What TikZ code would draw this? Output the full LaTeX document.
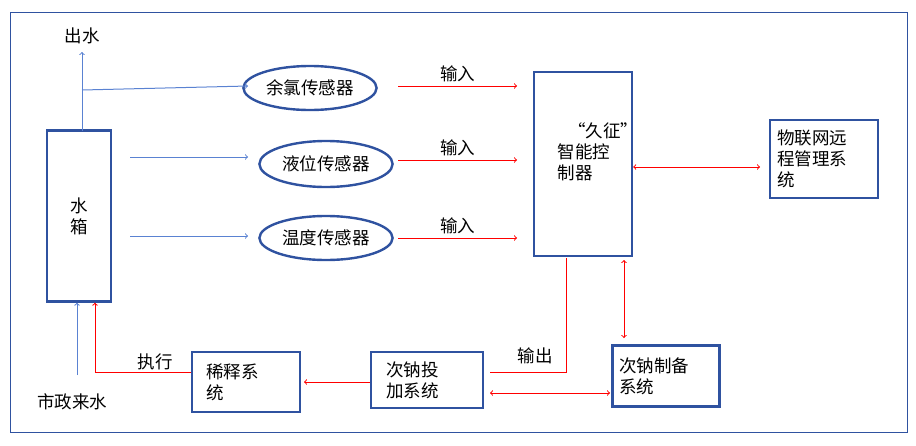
\documentclass[tikz,border=0pt]{standalone}
\usepackage{fontspec}
\setmainfont{Noto Sans CJK SC}
\usetikzlibrary{arrows,shapes}
\definecolor{frameblue}{RGB}{47,82,160}
\definecolor{lineblue}{RGB}{90,130,210}
\tikzset{
  blk/.style={draw=frameblue, line width=2.4pt, align=left},
  oval/.style={draw=frameblue, line width=2.4pt, ellipse, minimum width=116pt, minimum height=44pt},
  bl/.style={-to, draw=lineblue, line width=1pt},
  rd/.style={-to, draw=red, line width=1pt},
  rdd/.style={to-to, draw=red, line width=1pt}
}
\begin{document}
\begin{tikzpicture}[x=1pt,y=-1pt,font=\fontsize{17.5}{21}\selectfont]
  \useasboundingbox (0,0) rectangle (916,445);
  \draw[draw=frameblue, line width=0.7pt] (10,12) rectangle (907,432);
  % tank and sensors
  \node[blk, minimum width=64pt, minimum height=171pt] (tank) at (79,216) {};
  \node[align=center] at (79,216) {水\\箱};
  \node[oval] (cl) at (310,88) {余氯传感器};
  \node[oval, minimum width=124pt, minimum height=46pt] (lv) at (326,164) {液位传感器};
  \node[oval, minimum width=126pt] (tp) at (326,238) {温度传感器};
  \node[blk, minimum width=98pt, minimum height=184pt] (ctl) at (583,164) {};
  \node[align=left] at (598,152) {\hspace*{0.6em}“久征”\\智能控\\制器};
  \node[blk, minimum width=108pt, minimum height=78pt, text width=94pt] (iot) at (824,159) {物联网远\\程管理系\\统};
  \node[blk, minimum width=107pt, minimum height=61pt, text width=94pt] (prep) at (666,376) {次钠制备\\系统};
  \node[blk, minimum width=112pt, minimum height=56pt, text width=82pt] (dose) at (427,380) {次钠投\\加系统};
  \node[blk, minimum width=108pt, minimum height=60pt, text width=80pt] (dil) at (246,382) {稀释系\\统};
  \node (out) at (82,36) {出水};
  \node (city) at (72,402) {市政来水};
  % blue water lines
  \coordinate (tt) at (82,131);
  \coordinate (br) at (82,90);
  \draw[bl] (tt) -- (82,52);
  \draw[bl] (br) -- (248,86);
  \draw[bl] (130,157) -- (248,157);
  \draw[bl] (130,236) -- (248,236);
  \draw[bl] (77,375) -- (tank.south -| 77,0);
  % red signal lines
  \draw[rd] (398,86) -- node[above, text=black] {输入} (517,86);
  \draw[rd] (398,160) -- node[above, text=black] {输入} (517,160);
  \draw[rd] (398,238) -- node[above, text=black] {输入} (517,238);
  \draw[rdd] (ctl.east |- 0,167) -- (760,167);
  \draw[draw=red, line width=1pt] (566,258) -- (566,372) -- (490,372);
  \node at (535,356) {输出};
  \draw[rdd] (624,260) -- (624,338);
  \draw[rdd] (490,393) -- (610,393);
  \draw[rd] (dose.west |- 0,382) -- (304,382);
  \draw[rd] (dil.west |- 0,372) -- (95,372) -- (tank.south -| 95,0);
  \node at (155,362) {执行};
\end{tikzpicture}
\end{document}
